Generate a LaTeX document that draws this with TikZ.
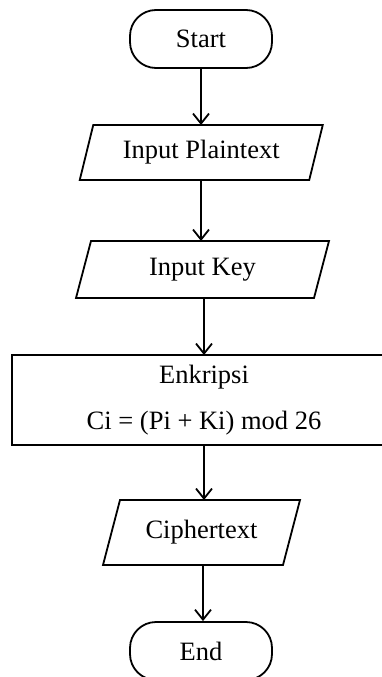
\documentclass[tikz,border=0pt]{standalone}
\usepackage{fontspec}
\setmainfont{Liberation Serif}
\usetikzlibrary{arrows.meta}
\begin{document}
\begin{tikzpicture}[x=1pt,y=-1pt,
  line width=1.8pt,
  every node/.style={font=\fontsize{26.5}{30}\selectfont, inner sep=0pt},
  term/.style={draw, rounded corners=26pt, minimum width=142pt, minimum height=58pt},
  iobox/.style={outer sep=0pt},
  proc/.style={outer sep=0pt, minimum width=384pt, minimum height=90pt, align=center},
  flow/.style={-{Straight Barb[length=10pt,width=16pt]}},
  ]
\useasboundingbox (0,0) rectangle (382,677);
\clip (0,0) rectangle (382,677);
\node[term] (start) at (201,39) {Start};
\node[iobox, minimum width=229.5pt, minimum height=55pt] (pt) at (201.25,152.5) {Input Plaintext};
\node[iobox, minimum width=238pt, minimum height=57pt] (key) at (202.5,269.5) {Input Key};
\node[proc] (enc) at (204,400) {Enkripsi\\[16pt]Ci = (Pi + Ki) mod 26};
\node[iobox, minimum width=180pt, minimum height=65pt] (ct) at (201.5,532.5) {Ciphertext};
\node[term] (end) at (201,651) {End};

\draw ([xshift=420pt]enc.north west) -- (enc.north west) -- (enc.south west) -- ([xshift=420pt]enc.south west);

\foreach \n/\s in {pt/6.75, key/7.5, ct/8.5}{
  \draw ([xshift=\s pt]\n.north west) -- ([xshift=\s pt]\n.north east)
     -- ([xshift=-\s pt]\n.south east) -- ([xshift=-\s pt]\n.south west) -- cycle;
}

\draw[flow] (start.south) -- (start.south |- pt.north);
\draw[flow] (pt.south -| start.south) -- (start.south |- key.north);
\draw[flow] (enc.north |- key.south) -- (enc.north);
\draw[flow] (enc.south) -- (enc.south |- ct.north);
\draw[flow] (ct.south -| 203,0) -- (end.north -| 203,0);
\end{tikzpicture}
\end{document}
